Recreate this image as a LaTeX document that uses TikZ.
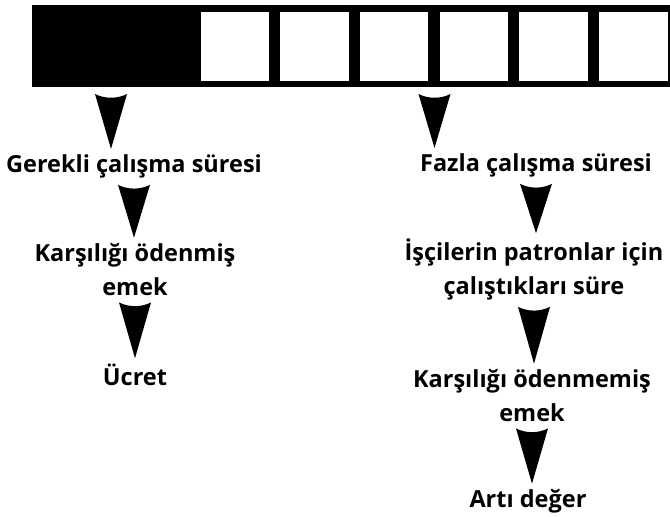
\documentclass[tikz,border=0pt]{standalone}
\usepackage{fontspec}
\setmainfont{Open Sans}
\usetikzlibrary{calc}

\newcommand\lblfont{\fontsize{23.5}{34}\selectfont\bfseries}

\begin{document}
\begin{tikzpicture}[x=1pt,y=-1pt]
    % \draw[step=10pt,help lines] (0,0) grid (670,517);
    \useasboundingbox (0,0) rectangle (670,517);
    \clip (0,0) rectangle (670,517);
    \tikzstyle{bar}=[fill=black,minimum height=82pt,inner sep=0pt,outer sep=0pt]
    \tikzstyle{lbl}=[font=\lblfont,align=center,anchor=base,inner sep=0pt]
    \tikzstyle{wedge}=[to path={
      ($(\tikztostart)+(-16pt,-7pt)$)
      .. controls ($(\tikztostart)+(-6pt,-12pt)$) and ($(\tikztostart)+(6pt,-12pt)$) ..
      ($(\tikztostart)+(16pt,-7pt)$)
      -- ($(\tikztostart |- \tikztotarget)+(0,5pt)$) -- cycle}]

    % working day
    \node[bar,minimum width=158pt] (nec) at (111,46) {};
    \node[bar,minimum width=489pt] (sur) at (434.5,46) {};
    \foreach \i in {0,...,5}
      \fill[white] (200.5+79.7*\i,11.7) rectangle +(68.5,69);

    % base of a two line label is its last line
    \node[lbl] (ger) at (134,172) {Gerekli çalışma süresi};
    \node[lbl] (kar) at (135,295) {Karşılığı ödenmiş\\emek};
    \node[lbl] (ucr) at (135,385) {Ücret};

    \node[lbl] (faz) at (536,171) {Fazla çalışma süresi};
    \node[lbl] (isc) at (534,294) {İşçilerin patronlar için\\çalıştıkları süre};
    \node[lbl] (kom) at (532,421) {Karşılığı ödenmemiş\\emek};
    \node[lbl] (art) at (528,507) {Artı değer};

    \fill (nec.south) to[wedge] (ger.north);
    \fill (ger.south) to[wedge] (kar.north);
    \fill (kar.south) to[wedge] (ucr.north);
    \fill (sur.south) to[wedge] (faz.north);
    \fill (faz.south) to[wedge] (isc.north);
    \fill (isc.south) to[wedge] (kom.north);
    \fill (kom.south) to[wedge] (art.north);
  \end{tikzpicture}
\end{document}
